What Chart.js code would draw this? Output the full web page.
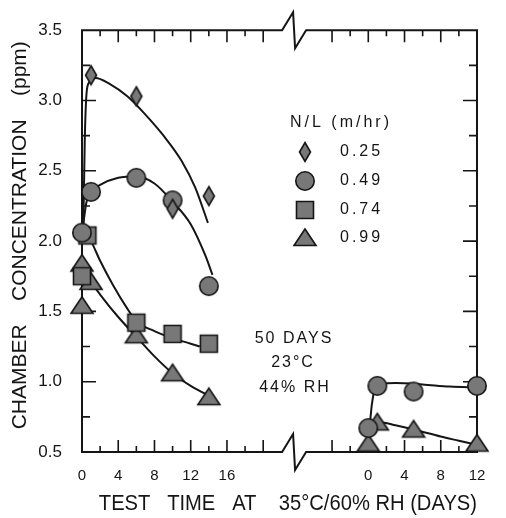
<!DOCTYPE html>
<html><head><meta charset="utf-8">
<script src="https://cdn.jsdelivr.net/npm/chart.js@4.4.1/dist/chart.umd.min.js"></script>
<style>html,body{margin:0;padding:0;background:#fff}#wrap{width:506px;height:518px;position:relative}</style>
</head><body><div id="wrap"><canvas id="c"></canvas></div>
<script>
// ---------- data ----------
const seriesLabels = ['0.25', '0.49', '0.74', '0.99'];
const legendTitle = 'N/L (m/hr)';
const conditionText = ['50 DAYS', '23°C', '44% RH'];
const yTickValues = [0.5, 1.0, 1.5, 2.0, 2.5, 3.0, 3.5];
const leftTickLabels = [0, 4, 8, 12, 16];      // days, left panel
const rightTickLabels = [0, 4, 8, 12];         // days, right panel

// left panel (test after 50 days at 23°C / 44% RH)
const L025x = [1, 6, 10, 14];
const L025y = [3.18, 3.03, 2.23, 2.32];
const L049x = [0, 1, 6, 10, 14];
const L049y = [2.06, 2.35, 2.45, 2.29, 1.68];
const L074x = [0, 0.6, 6, 10, 14];
const L074y = [1.75, 2.04, 1.42, 1.34, 1.27];
const L099x = [0, 0, 1, 6, 10, 14];
const L099y = [1.54, 1.84, 1.71, 1.33, 1.06, 0.89];
// right panel
const R049x = [0, 1, 5, 12];
const R049y = [0.67, 0.97, 0.93, 0.97];
const R099x = [0, 1, 5, 12];
const R099y = [0.56, 0.71, 0.66, 0.56];

// hand-drawn fit curves
const F025x = [0.15, 0.3, 0.5, 0.8, 1.5, 3, 5, 7, 9, 11, 12.5, 13.9];
const F025y = [2.1, 2.7, 3.05, 3.13, 3.16, 3.12, 3.03, 2.9, 2.75, 2.57, 2.38, 2.13];
const F049x = [0.1, 0.5, 1, 2, 4, 6, 8, 10, 12, 13.6, 14.4];
const F049y = [2.1, 2.28, 2.35, 2.4, 2.45, 2.46, 2.41, 2.28, 2.12, 1.9, 1.76];
const F074x = [0.5, 1, 2, 3.4, 5, 6, 8, 10, 12, 13];
const F074y = [2.05, 2.0, 1.86, 1.69, 1.52, 1.43, 1.36, 1.31, 1.27, 1.25];
const F099x = [0.3, 1, 2, 4, 6, 8, 10, 12, 13.7];
const F099y = [1.8, 1.71, 1.62, 1.46, 1.32, 1.18, 1.06, 0.97, 0.91];
const G049x = [0.1, 0.2, 0.4, 0.7, 1.5, 3, 6, 9, 12];
const G049y = [0.68, 0.72, 0.84, 0.94, 0.98, 0.99, 0.98, 0.965, 0.96];
const G099x = [0.5, 1.5, 3, 5, 8, 10, 12];
const G099y = [0.71, 0.71, 0.69, 0.66, 0.61, 0.58, 0.55];

// ---------- layout constants (not data) ----------
const RIGHT_OFFSET = 31.6;   // where day 0 of right panel sits on the shared axis
const X_MAX = RIGHT_OFFSET + 12;
const BREAK_AT = 23.3;
const FONT = "'Liberation Sans', Arial, sans-serif";
const INK = '#151515';
const GREY = '#787878';

function makeMarker(shape) {
  const c = document.createElement('canvas');
  const W = 26, H = 26; c.width = W; c.height = H;
  const g = c.getContext('2d');
  const cx = W / 2, cy = H / 2;
  g.fillStyle = GREY; g.strokeStyle = INK; g.lineWidth = 1.6;
  g.beginPath();
  if (shape === 'diamond') {
    g.moveTo(cx, cy - 9.5); g.lineTo(cx + 5.5, cy); g.lineTo(cx, cy + 9.5); g.lineTo(cx - 5.5, cy); g.closePath();
  } else if (shape === 'circle') {
    g.arc(cx, cy, 9.2, 0, Math.PI * 2);
  } else if (shape === 'square') {
    g.rect(cx - 8.5, cy - 8.5, 17, 17);
  } else {
    g.moveTo(cx, cy - 9); g.lineTo(cx + 11, cy + 7.5); g.lineTo(cx - 11, cy + 7.5); g.closePath();
  }
  g.fill(); g.stroke();
  return c;
}
const markers = {
  '0.25': makeMarker('diamond'),
  '0.49': makeMarker('circle'),
  '0.74': makeMarker('square'),
  '0.99': makeMarker('triangle')
};

const pts = (xs, ys, off = 0) => xs.map((v, i) => ({ x: v + off, y: ys[i] }));
const curve = (xs, ys, off = 0) => ({
  type: 'line', data: pts(xs, ys, off), borderColor: INK, borderWidth: 2,
  pointRadius: 0, tension: 0.4, cubicInterpolationMode: 'monotone', fill: false, order: 2, clip: false
});
const scatter = (label, xs, ys, off = 0) => ({
  type: 'scatter', label, data: pts(xs, ys, off), pointStyle: markers[label],
  pointRadius: 10, order: 1, clip: false
});

const datasets = [
  curve(F025x, F025y), curve(F049x, F049y), curve(F074x, F074y), curve(F099x, F099y),
  curve(G049x, G049y, RIGHT_OFFSET), curve(G099x, G099y, RIGHT_OFFSET),
  scatter('0.25', L025x, L025y), scatter('0.49', L049x, L049y),
  scatter('0.74', L074x, L074y), scatter('0.99', L099x, L099y),
  scatter('0.49', R049x, R049y, RIGHT_OFFSET), scatter('0.99', R099x, R099y, RIGHT_OFFSET)
];

const framePlugin = {
  id: 'frame',
  beforeDatasetsDraw(chart) {
    const { ctx, chartArea: { left, right, top, bottom }, scales: { x, y } } = chart;
    ctx.save();
    ctx.strokeStyle = INK; ctx.lineWidth = 2; ctx.lineCap = 'square';
    ctx.beginPath();
    ctx.moveTo(left, top); ctx.lineTo(left, bottom);
    ctx.moveTo(right, top); ctx.lineTo(right, bottom);
    const bx = x.getPixelForValue(BREAK_AT);
    [top, bottom].forEach(yy => {
      ctx.moveTo(left, yy); ctx.lineTo(bx - 11, yy); ctx.lineTo(bx, yy - 18);
      ctx.lineTo(bx + 2, yy + 18); ctx.lineTo(bx + 13, yy); ctx.lineTo(right, yy);
    });
    ctx.stroke();
    ctx.lineWidth = 1.6; ctx.lineCap = 'butt';
    ctx.beginPath();
    const xt = [];
    for (let d = 2; d <= 20; d += 2) xt.push([d, d % 4 === 0]);
    for (let d = -4; d < 12; d += 2) xt.push([d + RIGHT_OFFSET, d % 4 === 0]);
    xt.forEach(([v, major]) => {
      const px = x.getPixelForValue(v), len = major ? 12 : 6;
      ctx.moveTo(px, top); ctx.lineTo(px, top + len);
      ctx.moveTo(px, bottom); ctx.lineTo(px, bottom - len);
    });
    for (let v = 0.75; v < 3.5; v += 0.25) {
      const major = Math.abs(v * 2 - Math.round(v * 2)) < 1e-6;
      const py = y.getPixelForValue(v), len = major ? 14 : 8;
      ctx.moveTo(left, py); ctx.lineTo(left + len, py);
      ctx.moveTo(right, py); ctx.lineTo(right - len, py);
    }
    ctx.stroke();
    ctx.restore();
  },
  afterDatasetsDraw(chart) {
    const { ctx } = chart;
    ctx.save();
    ctx.fillStyle = INK;
    ctx.textBaseline = 'middle';
    ctx.font = "16px " + FONT;
    ctx.letterSpacing = '3px';
    ctx.textAlign = 'center';
    ctx.fillText(legendTitle, 341, 123);
    const rows = [152, 181, 210, 238];
    ctx.textAlign = 'left';
    seriesLabels.forEach((s, i) => {
      const m = markers[s];
      ctx.drawImage(m, 305 - m.width / 2, rows[i] - m.height / 2);
      ctx.fillText(s, 340, rows[i]);
    });
    ctx.textAlign = 'center';
    ctx.letterSpacing = '2px';
    ctx.fillText(conditionText[0], 294, 339);
    ctx.fillText(conditionText[1], 293, 363);
    ctx.fillText(conditionText[2], 295, 388);
    ctx.restore();
  }
};

new Chart(document.getElementById('c'), {
  data: { datasets },
  plugins: [framePlugin],
  options: {
    responsive: true, maintainAspectRatio: false, animation: false,
    layout: { padding: { top: 26, right: 29, left: 0, bottom: 0 }, autoPadding: false },
    plugins: { legend: { display: false }, tooltip: { enabled: false } },
    scales: {
      x: {
        type: 'linear', min: 0, max: X_MAX,
        afterBuildTicks: s => {
          s.ticks = leftTickLabels.map(v => ({ value: v }))
            .concat(rightTickLabels.map(v => ({ value: v + RIGHT_OFFSET })));
        },
        afterFit: s => { s.height = 66; },
        grid: { display: false, drawTicks: false }, border: { display: false },
        ticks: {
          autoSkip: false, maxRotation: 0, padding: 15, color: INK,
          font: { family: FONT, size: 15 },
          callback: v => (v >= RIGHT_OFFSET - 0.5 ? String(Math.round(v - RIGHT_OFFSET)) : String(v))
        },
        title: {
          display: true, text: '   TEST   TIME   AT    35°C/60% RH (DAYS)', color: INK,
          font: { family: FONT, size: 22 }, padding: { top: 0, bottom: 1 }
        }
      },
      y: {
        type: 'linear', min: 0.5, max: 3.5,
        afterBuildTicks: s => { s.ticks = yTickValues.map(v => ({ value: v })); },
        afterFit: s => { s.width = 82; },
        grid: { display: false, drawTicks: false }, border: { display: false },
        ticks: { padding: 20, color: INK, font: { family: FONT, size: 17 }, callback: v => v.toFixed(1) },
        title: {
          display: true, text: '  CHAMBER    CONCENTRATION    (ppm)', color: INK,
          font: { family: FONT, size: 21 }, padding: { top: 8, bottom: 0 }
        }
      }
    }
  }
});
</script></body></html>
